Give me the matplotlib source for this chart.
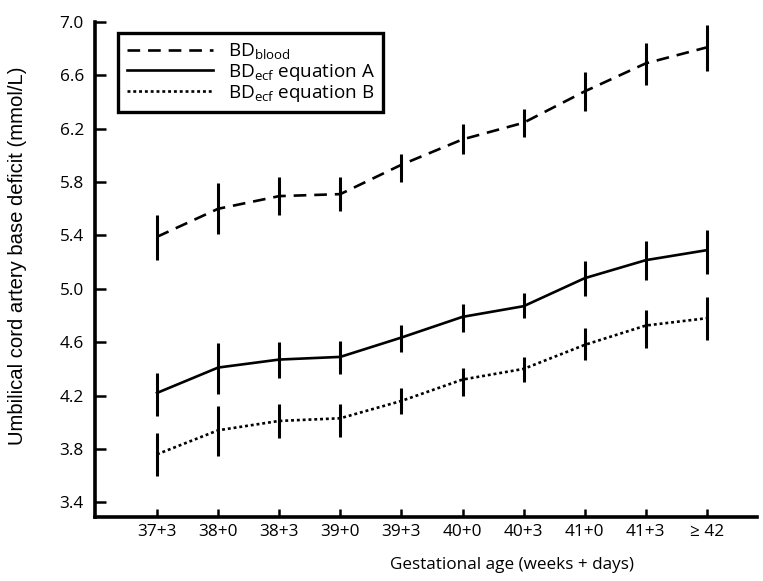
import matplotlib
matplotlib.use("Agg")
import matplotlib.pyplot as plt
import numpy as np

categories = ["37+3", "38+0", "38+3", "39+0", "39+3", "40+0", "40+3", "41+0", "41+3", "\u2265 42"]

bd_blood = [5.39, 5.60, 5.695, 5.71, 5.93, 6.12, 6.245, 6.48, 6.69, 6.81]
bd_blood_lo = [5.215, 5.41, 5.55, 5.58, 5.80, 6.01, 6.135, 6.335, 6.525, 6.63]
bd_blood_hi = [5.55, 5.79, 5.835, 5.835, 6.01, 6.235, 6.345, 6.625, 6.845, 6.98]

bd_ecf_a = [4.22, 4.41, 4.47, 4.49, 4.635, 4.79, 4.87, 5.08, 5.215, 5.29]
bd_ecf_a_lo = [4.05, 4.21, 4.335, 4.36, 4.53, 4.68, 4.78, 4.95, 5.065, 5.115]
bd_ecf_a_hi = [4.37, 4.595, 4.60, 4.61, 4.73, 4.89, 4.97, 5.21, 5.36, 5.44]

bd_ecf_b = [3.76, 3.94, 4.01, 4.03, 4.16, 4.32, 4.40, 4.58, 4.725, 4.78]
bd_ecf_b_lo = [3.60, 3.745, 3.88, 3.89, 4.065, 4.20, 4.30, 4.465, 4.56, 4.615]
bd_ecf_b_hi = [3.92, 4.12, 4.135, 4.14, 4.26, 4.41, 4.49, 4.71, 4.845, 4.94]

y_ticks = [3.4, 3.8, 4.2, 4.6, 5.0, 5.4, 5.8, 6.2, 6.6, 7.0]

plt.rcParams['font.family'] = ['Open Sans', 'DejaVu Sans']
plt.rcParams['mathtext.fontset'] = 'custom'
plt.rcParams['mathtext.rm'] = 'Open Sans'

fig = plt.figure(figsize=(7.63, 5.81), dpi=100)
ax = fig.add_axes([95/763, 1-517/581, (757-95)/763, (517-22)/581])

x = np.arange(len(categories))
series = [
    (bd_blood, bd_blood_lo, bd_blood_hi, (0, (4.8, 3.0)), r"BD$_{\mathregular{blood}}$"),
    (bd_ecf_a, bd_ecf_a_lo, bd_ecf_a_hi, "-", r"BD$_{\mathregular{ecf}}$ equation A"),
    (bd_ecf_b, bd_ecf_b_lo, bd_ecf_b_hi, (0, (1.1, 1.1)), r"BD$_{\mathregular{ecf}}$ equation B"),
]
for vals, lo, hi, ls, lab in series:
    vals = np.array(vals); lo = np.array(lo); hi = np.array(hi)
    ax.plot(x, vals, color="black", linestyle=ls, linewidth=1.9, label=lab)
    ax.vlines(x, lo, hi, color="black", linewidth=2.2)

ax.set_xlim(-1.015, 9.82)
ax.set_ylim(3.29, 7.0)
ax.set_yticks(y_ticks)
ax.set_yticklabels([f"{v:.1f}" for v in y_ticks])
ax.set_xticks(x)
ax.set_xticklabels(categories)

for s in ["top", "right"]:
    ax.spines[s].set_visible(False)
for s in ["left", "bottom"]:
    ax.spines[s].set_linewidth(2.6)

ax.tick_params(axis="y", direction="in", length=8, width=1.8, labelsize=12.4, pad=8)
ax.tick_params(axis="x", direction="in", length=6, width=1.8, labelsize=12.4, pad=5)

ax.set_xlabel("Gestational age (weeks + days)", fontsize=12.3)
ax.xaxis.set_label_coords((512-95)/662, (517-557)/495)
ax.set_ylabel("Umbilical cord artery base deficit (mmol/L)", fontsize=14.6,
              family="Liberation Sans")
ax.yaxis.set_label_coords((27-95)/662, (517-256)/495)

leg = ax.legend(loc="upper left", bbox_to_anchor=((118-95)/662, (517-33)/495),
                borderaxespad=0, frameon=True, fancybox=False, fontsize=13.6,
                handlelength=4.6, labelspacing=0.0, borderpad=0.45,
                handletextpad=0.75, framealpha=1)
leg.get_frame().set_edgecolor("black")
leg.get_frame().set_linewidth(2.4)

fig.savefig("out.png", dpi=100)
